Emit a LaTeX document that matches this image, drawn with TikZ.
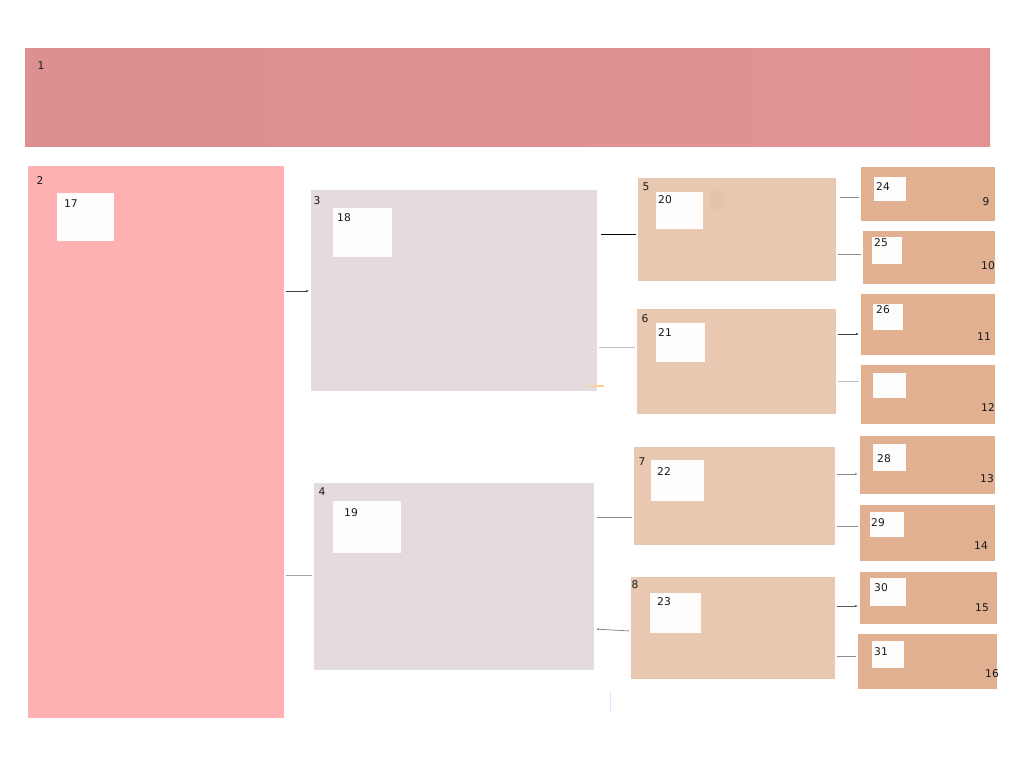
\documentclass[tikz,border=0pt]{standalone}
\usepackage{fontspec}
\setmainfont{DejaVu Sans}
\usetikzlibrary{fit,arrows.meta}
\definecolor{topbar}{HTML}{E29292}
\definecolor{topbarl}{HTML}{DC9090}
\definecolor{sidebar}{HTML}{FFB0B0}
\definecolor{panel}{HTML}{E4DCDC}
\definecolor{group}{HTML}{E8C8B0}
\definecolor{groupdim}{HTML}{E4C4AC}
\definecolor{leaf}{HTML}{E0B090}
\definecolor{card}{HTML}{FFFDFB}
\tikzset{
  box/.style={inner sep=0pt, draw=none},
  num/.style={font=\fontsize{8}{9.5}\selectfont, inner sep=0pt, text=black!90},
  link/.style={line width=0.6pt, draw=black!35, shorten <=1pt, shorten >=1pt},
  dark/.style={draw=black!75},
  tip/.style={-{Latex[length=2.5pt,width=1.6pt]}}
}
\begin{document}
\begin{tikzpicture}[x=0.75pt,y=-0.75pt]
  \useasboundingbox (0,0) rectangle (1024,768);
  % big areas
  \node[box, left color=topbarl, right color=topbar, fit={(25,48) (990,146)}] (1) {};
  \node[box, fill=sidebar, fit={(28,166) (284,718)}]  (2) {};
  \node[box, fill=panel,   fit={(311,190) (597,391)}] (3) {};
  \node[box, fill=panel,   fit={(314,483) (594,670)}] (4) {};
  % groups
  \node[box, fill=group, fit={(638,178) (836,281)}] (5) {};
  \node[box, fill=group, fit={(637,309) (836,414)}] (6) {};
  \node[box, fill=group, fit={(634,447) (835,545)}] (7) {};
  \node[box, fill=group, fit={(631,577) (835,679)}] (8) {};
  \node[box, fill=groupdim, fit={(710,190) (725,210)}] (5x) {};
  % leaves
  \node[box, fill=leaf, fit={(861,167) (995,221)}] (9) {};
  \node[box, fill=leaf, fit={(863,231) (995,284)}] (10) {};
  \node[box, fill=leaf, fit={(861,294) (995,355)}] (11) {};
  \node[box, fill=leaf, fit={(861,365) (995,424)}] (12) {};
  \node[box, fill=leaf, fit={(860,436) (995,494)}] (13) {};
  \node[box, fill=leaf, fit={(860,505) (995,561)}] (14) {};
  \node[box, fill=leaf, fit={(860,572) (997,624)}] (15) {};
  \node[box, fill=leaf, fit={(858,634) (997,689)}] (16) {};
  % white cards
  \node[box, fill=card, fit={(57,193) (114,241)}]  (17) {};
  \node[box, fill=card, fit={(333,208) (392,257)}] (18) {};
  \node[box, fill=card, fit={(333,501) (401,553)}] (19) {};
  \node[box, fill=card, fit={(656,192) (703,229)}] (20) {};
  \node[box, fill=card, fit={(656,323) (705,362)}] (21) {};
  \node[box, fill=card, fit={(651,460) (704,501)}] (22) {};
  \node[box, fill=card, fit={(650,593) (701,633)}] (23) {};
  \node[box, fill=card, fit={(874,177) (906,201)}] (24) {};
  \node[box, fill=card, fit={(872,237) (902,264)}] (25) {};
  \node[box, fill=card, fit={(873,304) (903,330)}] (26) {};
  \node[box, fill=card, fit={(873,373) (906,398)}] (27) {};
  \node[box, fill=card, fit={(873,444) (906,471)}] (28) {};
  \node[box, fill=card, fit={(870,512) (904,537)}] (29) {};
  \node[box, fill=card, fit={(870,578) (906,606)}] (30) {};
  \node[box, fill=card, fit={(872,641) (904,668)}] (31) {};
  % numbers
  \path
    (41,66)   node[num] (t1)  {1}
    (40,181)  node[num] (t2)  {2}
    (317,201) node[num] (t3)  {3}
    (322,492) node[num] (t4)  {4}
    (646,187) node[num] (t5)  {5}
    (645,319) node[num] (t6)  {6}
    (642,462) node[num] (t7)  {7}
    (635,585) node[num] (t8)  {8}
    (986,202) node[num] (t9)  {9}
    (988,266) node[num] (t10) {10}
    (984,337) node[num] (t11) {11}
    (988,408) node[num] (t12) {12}
    (987,479) node[num] (t13) {13}
    (981,546) node[num] (t14) {14}
    (982,608) node[num] (t15) {15}
    (992,674) node[num] (t16) {16}
    (71,204)  node[num] (t17) {17}
    (344,218) node[num] (t18) {18}
    (351,513) node[num] (t19) {19}
    (665,200) node[num] (t20) {20}
    (665,333) node[num] (t21) {21}
    (664,472) node[num] (t22) {22}
    (664,602) node[num] (t23) {23}
    (883,187) node[num] (t24) {24}
    (881,243) node[num] (t25) {25}
    (883,310) node[num] (t26) {26}
    (884,459) node[num] (t28) {28}
    (878,523) node[num] (t29) {29}
    (881,588) node[num] (t30) {30}
    (881,652) node[num] (t31) {31};
  % links
  \begin{scope}[link]
    \draw[dark, tip] (2.east |- 0,291) -- (3.west |- 0,291);
    \draw (2.east |- 0,575) -- (4.west |- 0,575);
    \draw[draw=black, shorten <=3pt] (3.east |- 0,234) -- (5.west |- 0,234);
    \draw[draw=black!25] (3.east |- 0,347) -- (6.west |- 0,347);
    \draw[draw=black!45, shorten <=2pt] (4.east |- 0,517) -- (7.west |- 0,517);
    \draw[draw=black!45, tip] (8.west |- 0,631) -- (4.east |- 0,629);
    \draw[draw=black!45, shorten <=3pt] (5.east |- 0,197) -- (9.west |- 0,197);
    \draw[draw=black!45] (5.east |- 0,254) -- (10.west |- 0,254);
    \draw[dark, tip] (6.east |- 0,334) -- (11.west |- 0,334);
    \draw[draw=black!25] (6.east |- 0,381) -- (12.west |- 0,381);
    \draw[draw=black!45, tip] (7.east |- 0,474) -- (13.west |- 0,474);
    \draw[draw=black!45] (7.east |- 0,526) -- (14.west |- 0,526);
    \draw[draw=black!65, tip] (8.east |- 0,606) -- (15.west |- 0,606);
    \draw[draw=black!45] (8.east |- 0,656) -- (16.west |- 0,656);
  \end{scope}
  % stray marks
  \coordinate (o1) at (590,386);
  \coordinate (o2) at (604,386);
  \coordinate (b1) at (610,692);
  \coordinate (b2) at (610,712);
  \draw[line width=1pt, draw=orange!40] (o1) -- (o2);
  \draw[line width=0.6pt, draw=blue!12] (b1) -- (b2);
\end{tikzpicture}
\end{document}
